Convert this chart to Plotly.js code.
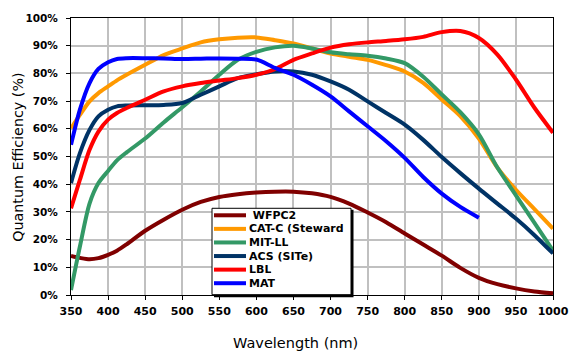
<!DOCTYPE html>
<html>
<head>
<meta charset="utf-8">
<script src="https://cdn.plot.ly/plotly-3.0.1.min.js"></script>
<style>html,body{margin:0;padding:0;background:#fff;}#chart{width:576px;height:363px;}</style>
</head>
<body>
<div id="chart"></div>
<script>
// Wavelength (nm)
const wavelengths = [350,362,375,387,400,412,425,450,475,500,525,550,575,600,625,650,675,700,725,750,775,800,825,850,875,900,925,950,975,1000];
// Quantum efficiency (%) per detector
const wfpc2 = [14.1,13.4,12.9,13.3,14.5,16.0,18.3,23.2,27.2,30.8,33.6,35.4,36.4,37.0,37.3,37.3,36.7,35.4,33.0,29.8,26.3,22.2,18.2,14.2,9.8,6.2,3.9,2.4,1.3,0.6];
const catc  = [60.2,65.0,69.9,72.9,75.3,77.5,79.5,83.1,86.6,89.0,91.2,92.3,92.9,93.0,92.0,90.8,89.0,87.2,86.0,84.9,83.0,80.7,76.6,70.6,64.6,56.5,46.0,38.0,31.0,24.0];
const mitll = [1.8,17.5,33.0,40.4,44.8,48.6,51.5,56.5,62.3,67.8,73.5,79.5,84.9,87.8,89.4,90.0,89.0,87.6,86.9,86.4,85.4,83.7,78.8,72.4,66.0,58.0,46.0,36.0,26.0,16.0];
const acs   = [40.4,51.2,59.6,64.5,66.9,68.1,68.4,68.5,68.6,69.3,72.3,75.3,78.3,79.7,80.7,80.7,79.5,77.1,74.1,69.9,65.7,61.5,56.0,49.8,44.0,38.4,33.0,27.6,21.6,15.0];
const lbl   = [31.3,41.6,52.4,59.0,63.3,65.7,67.5,70.5,73.5,75.3,76.5,77.4,78.3,79.5,81.5,84.9,87.2,89.3,90.5,91.2,91.7,92.3,93.2,94.9,95.3,92.8,86.8,77.8,67.6,58.6];
const mat   = [54.2,66.9,76.5,81.6,84.0,85.2,85.5,85.5,85.4,85.2,85.3,85.4,85.3,85.0,82.0,79.5,75.9,71.7,66.3,60.9,55.5,49.5,42.6,36.6,31.8,27.9,null,null,null,null];

const seriesNames  = [" WFPC2", "CAT-C (Steward", "MIT-LL", "ACS (SITe)", "LBL", "MAT"];
const seriesValues = [wfpc2, catc, mitll, acs, lbl, mat];
const seriesColors = ["#800000", "#FF9900", "#339966", "#003366", "#FF0000", "#0000FF"];

const xTicks = [350,400,450,500,550,600,650,700,750,800,850,900,950,1000];
const yTicks = [0,10,20,30,40,50,60,70,80,90,100];

const FONT = "'DejaVu Sans', Verdana, sans-serif";

const traces = seriesValues.map((vals, i) => ({
  x: wavelengths, y: vals, name: seriesNames[i], type: "scatter", mode: "lines",
  line: {color: seriesColors[i], width: 4, shape: "spline", smoothing: 0.8},
  connectgaps: false, showlegend: false, hoverinfo: "x+y+name"
}));

// plot area in pixels (for placing the hand-built legend box and titles)
const L = 71, R = 553, T = 18, B = 295.3;
const px = p => (p - L) / (R - L);
const py = p => (B - p) / (B - T);

const shapes = [];
const annotations = [];
// legend shadow + box
shapes.push({type: "rect", xref: "paper", yref: "paper", layer: "above",
  x0: px(214), x1: px(353.5), y0: py(297.5), y1: py(210), fillcolor: "#000", line: {width: 0}});
shapes.push({type: "rect", xref: "paper", yref: "paper", layer: "above",
  x0: px(212), x1: px(351), y0: py(295), y1: py(208.5), fillcolor: "#fff", line: {color: "#000", width: 1}});
const rowY0 = 215.5, rowStep = 13.6;
seriesNames.forEach((nm, i) => {
  const yy = py(rowY0 + i * rowStep);
  shapes.push({type: "line", xref: "paper", yref: "paper", layer: "above",
    x0: px(214), x1: px(246), y0: yy, y1: yy, line: {color: seriesColors[i], width: 4}});
  annotations.push({xref: "paper", yref: "paper", x: px(248), y: yy, xanchor: "left", yanchor: "middle",
    text: nm, showarrow: false, height: 13, borderpad: 0,
    font: {family: FONT, size: 11, color: "#000", weight: "bold"}});
});
// axis titles
annotations.push({xref: "paper", yref: "paper", x: px(295), y: py(343), xanchor: "center", yanchor: "middle",
  text: "Wavelength (nm)", showarrow: false, font: {family: FONT, size: 14.5, color: "#000"}});
annotations.push({xref: "paper", yref: "paper", x: px(18.5), y: py(157.5), xanchor: "center", yanchor: "middle",
  text: "Quantum Efficiency (%)", textangle: -90, showarrow: false, font: {family: FONT, size: 14.3, color: "#000"}});

const layout = {
  width: 576, height: 363,
  margin: {l: L, r: 576 - R, t: T, b: 363 - 295},
  paper_bgcolor: "#fff", plot_bgcolor: "#fff",
  showlegend: false,
  font: {family: FONT, color: "#000"},
  xaxis: {
    range: [350, 1000], tickvals: xTicks, ticktext: xTicks.map(String),
    showgrid: true, gridcolor: "#C0C0C0", gridwidth: 2,
    showline: true, linecolor: "#000", linewidth: 1, mirror: true,
    ticks: "outside", ticklen: 4, tickcolor: "#000", ticklabelstandoff: 2,
    tickfont: {family: FONT, size: 11, color: "#000", weight: "bold"},
    zeroline: false
  },
  yaxis: {
    range: [0, 100], tickvals: yTicks, ticktext: yTicks.map(v => v + "%"),
    showgrid: true, gridcolor: "#C0C0C0", gridwidth: 2,
    showline: true, linecolor: "#000", linewidth: 1, mirror: true,
    ticks: "outside", ticklen: 4, tickcolor: "#000", ticklabelstandoff: 6,
    tickfont: {family: FONT, size: 10.5, color: "#000", weight: "bold"},
    zeroline: false
  },
  shapes: shapes,
  annotations: annotations
};

Plotly.newPlot("chart", traces, layout, {displayModeBar: false, staticPlot: true});
</script>
</body>
</html>
